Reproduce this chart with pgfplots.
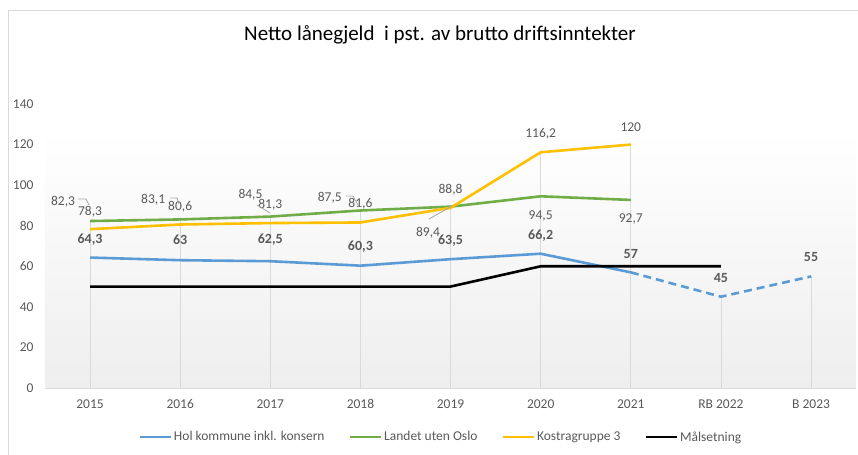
\documentclass[border=0pt]{standalone}
\usepackage{pgfplots}
\pgfplotsset{compat=1.18}
\usepackage{fontspec}
\setmainfont{Carlito}
\definecolor{hol}{RGB}{91,155,213}
\definecolor{landet}{RGB}{112,173,71}
\definecolor{kostra}{RGB}{255,192,0}
\definecolor{txt}{RGB}{89,89,89}
\definecolor{grd}{RGB}{217,217,217}
\definecolor{lead}{RGB}{166,166,166}
\definecolor{bgb}{RGB}{238,238,238}
\newcommand{\lbl}{\fontsize{13.5bp}{16bp}\selectfont}
\begin{document}
\begin{tikzpicture}
\path[use as bounding box] (-45bp,-67bp) rectangle (813bp,388bp);
\draw[grd] (-37bp,-67bp) -- (-37bp,378bp) -- (813bp,378bp);
\begin{axis}[
  x=90.125bp, y=2.0286bp,
  xmin=-0.5, xmax=8.5, ymin=0, ymax=140,
  axis line style={draw=none},
  clip=false,
  major tick length=0pt,
  xtick={0,...,8},
  xticklabels={2015,2016,2017,2018,2019,2020,2021,RB 2022,B 2023},
  ytick={0,20,...,140},
  tick label style={font=\lbl, text=txt},
  /pgf/number format/assume math mode=true,
  yticklabel style={anchor=east, xshift=-8bp},
  xticklabel style={yshift=-8bp},
  legend columns=4,
  legend style={at={(0.488,-0.1725)}, anchor=center, draw=none, fill=none,
    font=\lbl, text=txt,
    /tikz/every even column/.append style={column sep=22bp},
    nodes={inner xsep=2bp}},
  legend image code/.code={\draw[#1] (0bp,0bp) -- (31bp,0bp);},
]
\fill[top color=white, bottom color=bgb] (axis cs:-0.5,0) rectangle (axis cs:8.5,127);
\draw[grd] (axis cs:-0.5,0) -- (axis cs:8.5,0);
\addplot[ycomb, grd, line width=0.8bp, forget plot] coordinates {(0,82.3) (1,83.1) (2,84.5) (3,87.5) (4,89.4) (5,116.2) (6,120) (7,45) (8,55)};
\addplot[hol, line width=2.6bp] coordinates {(0,64.3) (1,63) (2,62.5) (3,60.3) (4,63.5) (5,66.2) (6,57)};
\addplot[landet, line width=2.6bp] coordinates {(0,82.3) (1,83.1) (2,84.5) (3,87.5) (4,89.4) (5,94.5) (6,92.7)};
\addplot[kostra, line width=2.6bp] coordinates {(0,78.3) (1,80.6) (2,81.3) (3,81.6) (4,88.8) (5,116.2) (6,120)};
\addplot[black, line width=2.6bp] coordinates {(0,50) (1,50) (2,50) (3,50) (4,50) (5,60) (6,60) (7,60)};
\addplot[hol, line width=2.6bp, dash pattern=on 8bp off 5bp, forget plot] coordinates {(6,57) (7,45) (8,55)};
\legend{Hol kommune inkl. konsern, Landet uten Oslo, Kostragruppe 3, Målsetning}
% Landet uten Oslo labels
\node[font=\lbl, text=txt] at (axis cs:-0.30,91.8) {82,3};
\node[font=\lbl, text=txt] at (axis cs:0.70,92.7) {83,1};
\node[font=\lbl, text=txt] at (axis cs:1.78,95.1) {84,5};
\node[font=\lbl, text=txt] at (axis cs:2.66,94.0) {87,5};
\node[font=\lbl, text=txt] at (axis cs:3.75,76.7) {89,4};
\node[font=\lbl, text=txt] at (axis cs:5,84.8) {94,5};
\node[font=\lbl, text=txt] at (axis cs:6,83.3) {92,7};
% Kostragruppe 3 labels
\node[font=\lbl, text=txt] at (axis cs:0,86.9) {78,3};
\node[font=\lbl, text=txt] at (axis cs:1,89.4) {80,6};
\node[font=\lbl, text=txt] at (axis cs:2,90.2) {81,3};
\node[font=\lbl, text=txt] at (axis cs:3,90.6) {81,6};
\node[font=\lbl, text=txt] at (axis cs:4,97.6) {88,8};
\node[font=\lbl, text=txt] at (axis cs:5,125.1) {116,2};
\node[font=\lbl, text=txt] at (axis cs:6,128.8) {120};
% Hol labels
\node[font=\fontsize{14bp}{16bp}\selectfont\bfseries, text=txt] at (axis cs:0,73.3) {64,3};
\node[font=\fontsize{14bp}{16bp}\selectfont\bfseries, text=txt] at (axis cs:1,73.0) {63};
\node[font=\fontsize{14bp}{16bp}\selectfont\bfseries, text=txt] at (axis cs:2,73.0) {62,5};
\node[font=\fontsize{14bp}{16bp}\selectfont\bfseries, text=txt] at (axis cs:3,69.7) {60,3};
\node[font=\fontsize{14bp}{16bp}\selectfont\bfseries, text=txt] at (axis cs:4,72.8) {63,5};
\node[font=\fontsize{14bp}{16bp}\selectfont\bfseries, text=txt] at (axis cs:5,75.1) {66,2};
\node[font=\fontsize{14bp}{16bp}\selectfont\bfseries, text=txt] at (axis cs:6,66.1) {57};
\node[font=\fontsize{14bp}{16bp}\selectfont\bfseries, text=txt] at (axis cs:7,54.1) {45};
\node[font=\fontsize{14bp}{16bp}\selectfont\bfseries, text=txt] at (axis cs:8,64.4) {55};
\end{axis}
% leader lines
\draw[lead, line width=0.8bp] (33bp,189bp) -- (41bp,189bp) -- (44bp,183bp);
\draw[lead, line width=0.8bp] (125bp,190bp) -- (132bp,190bp) -- (134bp,184bp);
\draw[lead, line width=0.8bp] (212bp,183bp) -- (225bp,175bp);
\draw[lead, line width=0.8bp] (301bp,192bp) -- (308bp,192bp) -- (314bp,181bp);
\draw[lead, line width=0.8bp] (384bp,169bp) -- (407bp,182bp);
\node[font=\fontsize{21bp}{25bp}\selectfont, text=black] at (395bp,353bp) {Netto lånegjeld\ \ i pst. av brutto driftsinntekter};
\end{tikzpicture}
\end{document}
